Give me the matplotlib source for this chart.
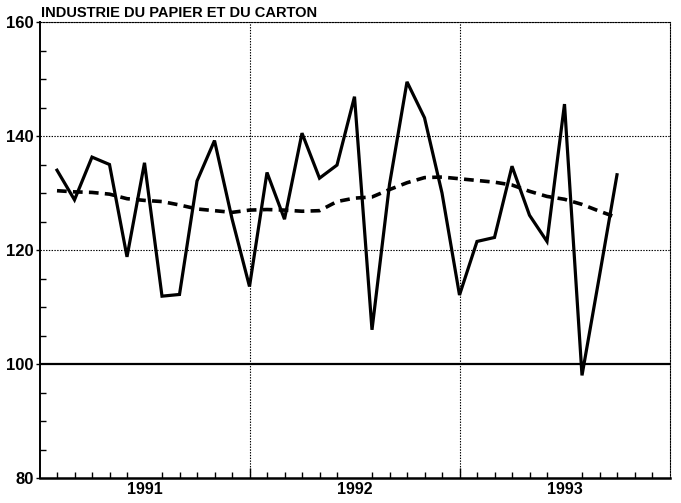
import matplotlib
matplotlib.use("Agg")
import matplotlib.pyplot as plt
from matplotlib.ticker import MultipleLocator, FixedLocator

plt.rcParams['font.family'] = ['Liberation Sans', 'DejaVu Sans']
plt.rcParams['lines.scale_dashes'] = False

title = "INDUSTRIE DU PAPIER ET DU CARTON"
months = list(range(1, 34))
production = [134.0, 128.8, 136.3, 135.0, 118.8, 135.3, 111.9, 112.2, 132.1, 139.2,
              125.5, 113.6, 133.6, 125.4, 140.5, 132.6, 134.9, 146.9, 106.0, 131.5,
              149.5, 143.2, 130.0, 112.1, 121.5, 122.2, 134.7, 126.1, 121.5, 145.6,
              98.0, 115.5, 133.2]
trend = [130.4, 130.2, 130.1, 129.8, 129.0, 128.7, 128.5, 127.9, 127.2, 126.9,
         126.6, 127.0, 127.1, 127.0, 126.8, 126.9, 128.5, 129.1, 129.3, 130.6,
         131.8, 132.7, 132.8, 132.5, 132.2, 131.9, 131.4, 130.3, 129.4, 128.9,
         128.0, 126.8, 125.7]
year_labels = ["1991", "1992", "1993"]
year_centers = [6, 18, 30]
year_bounds = [12, 24]
y_ticks = [80, 100, 120, 140, 160]

fig = plt.figure(figsize=(6.81, 5.03), dpi=100)
ax = fig.add_axes([39.5/681, 1-478/503, 630/681, 456/503])
ax.set_xlim(0, 36)
ax.set_ylim(80, 160)

# grid
for yv in [120, 140, 160]:
    ax.axhline(yv, color='black', lw=0.8, ls=(0, (1, 1)), zorder=1)
ax.axhline(100, color='black', lw=1.6, zorder=1)
for xb in year_bounds:
    ax.axvline(xb, color='black', lw=0.8, ls=(0, (1, 1)), zorder=1)

ax.plot(months, production, color='black', lw=2.3, solid_joinstyle='miter', zorder=3)
ax.plot(months, trend, color='black', lw=2.6, dashes=(7, 4.5), zorder=3)

# spines
ax.spines['left'].set_linewidth(1.4)
ax.spines['bottom'].set_linewidth(1.8)
for s in ['top', 'right']:
    ax.spines[s].set_linewidth(0.8)
    ax.spines[s].set_linestyle((0, (1, 1)))

# y ticks
ax.set_yticks(y_ticks)
ax.yaxis.set_minor_locator(MultipleLocator(5))
ax.tick_params(axis='y', which='major', direction='out', length=3, width=1,
               labelsize=12, pad=1)
ax.tick_params(axis='y', which='minor', direction='in', length=4, width=1)
for lab in ax.get_yticklabels():
    lab.set_fontweight('bold')

# x ticks
ax.set_xticks(year_centers)
ax.set_xticklabels(year_labels, fontweight='bold', fontsize=11.5)
ax.tick_params(axis='x', which='major', length=0, pad=3)
ax.xaxis.set_minor_locator(FixedLocator([m for m in range(1, 36) if m not in year_bounds]))
ax.tick_params(axis='x', which='minor', direction='in', length=4, width=1)
sec = ax.secondary_xaxis('bottom')
sec.set_xticks(year_bounds)
sec.set_xticklabels(['', ''])
sec.tick_params(direction='in', length=7, width=1)
sec.spines['bottom'].set_visible(False)

ax.text(0.003, 1.005, title, transform=ax.transAxes, ha='left', va='bottom',
        fontsize=10.5, fontweight='bold')

fig.savefig("out.png", dpi=100)
